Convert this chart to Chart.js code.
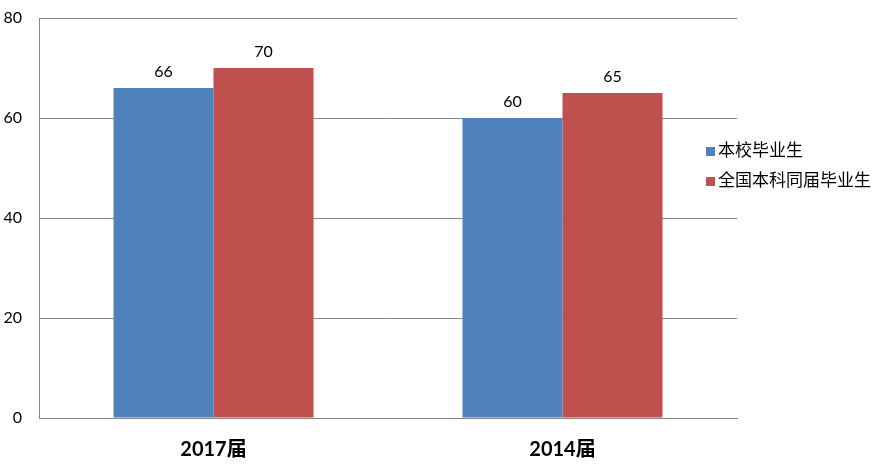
<!DOCTYPE html>
<html>
<head>
<meta charset="utf-8">
<script src="https://cdn.jsdelivr.net/npm/chart.js@4"></script>
<style>
    html, body { margin: 0; padding: 0; background: #fff; }
    #wrap { width: 873px; height: 465px; }
</style>
</head>
<body>
<div id="wrap"><canvas id="chart" width="873" height="465"></canvas></div>
<script>
const categories = ['2017届', '2014届'];
const seriesNames = ['本校毕业生', '全国本科同届毕业生'];
const schoolValues = [66, 60];
const nationalValues = [70, 65];
const yTicks = [0, 20, 40, 60, 80];

const FONT = 'Lato, "Noto Sans CJK SC", sans-serif';
const BLUE = '#4F81BD';
const RED = '#C0504D';
const GRID = '#868686';

// value labels above bars + legend on the right
const labelsPlugin = {
    id: 'labels',
    afterDatasetsDraw(chart) {
        const ctx = chart.ctx;
        ctx.save();
        ctx.fillStyle = '#000';
        ctx.font = '16px ' + FONT;
        ctx.textAlign = 'center';
        ctx.textBaseline = 'middle';
        chart.data.datasets.forEach((ds, i) => {
            chart.getDatasetMeta(i).data.forEach((bar, j) => {
                ctx.fillText(ds.data[j], bar.x, bar.y - 16);
            });
        });

        ctx.textAlign = 'left';
        ctx.font = '17px "Noto Sans CJK SC", sans-serif';
        chart.data.datasets.forEach((ds, i) => {
            const y = 150 + i * 30;
            ctx.fillStyle = ds.backgroundColor;
            ctx.fillRect(706, y - 3, 9, 9);
            ctx.fillStyle = '#000';
            ctx.fillText(ds.label, 718, y);
        });
        ctx.restore();
    }
};

new Chart(document.getElementById('chart').getContext('2d'), {
    type: 'bar',
    data: {
        labels: categories,
        datasets: [
            { label: seriesNames[0], data: schoolValues, backgroundColor: BLUE },
            { label: seriesNames[1], data: nationalValues, backgroundColor: RED }
        ]
    },
    options: {
        responsive: false,
        animation: false,
        layout: { padding: { left: 0, right: 136, top: 18, bottom: 0 } },
        datasets: {
            bar: { categoryPercentage: 0.573, barPercentage: 1 }
        },
        scales: {
            x: {
                grid: { display: false },
                border: { color: GRID },
                ticks: {
                    color: '#000',
                    font: { family: FONT, size: 20, weight: 'bold' },
                    padding: 12
                },
                afterFit(scale) { scale.height = 47; }
            },
            y: {
                min: 0,
                max: 80,
                afterBuildTicks(scale) { scale.ticks = yTicks.map(v => ({ value: v })); },
                grid: { color: GRID, drawTicks: false },
                border: { color: GRID },
                ticks: {
                    color: '#000',
                    font: { family: FONT, size: 16 },
                    padding: 17
                },
                afterFit(scale) {
                    scale.width = 39;
                    scale.paddingTop = 0;
                    scale.paddingBottom = 0;
                }
            }
        },
        plugins: {
            legend: { display: false },
            tooltip: { enabled: false }
        }
    },
    plugins: [labelsPlugin]
});
</script>
</body>
</html>
